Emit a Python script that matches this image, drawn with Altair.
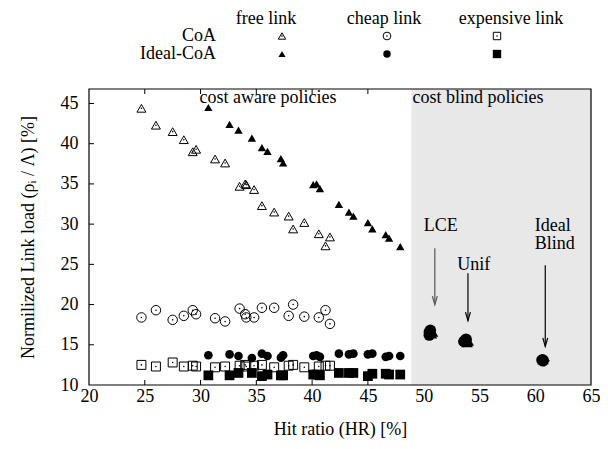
import altair as alt
import pandas as pd

# ---------------- data ----------------
coa_hr = [24.7, 26.0, 27.5, 28.5, 29.3, 29.6, 31.3, 32.2, 33.5, 34.0, 34.1, 34.8,
          35.5, 36.6, 37.9, 38.3, 39.3, 40.6, 41.2, 41.6]
coa_free = [44.4, 42.3, 41.5, 40.5, 39.0, 39.3, 38.1, 37.6, 34.7, 35.0, 34.9, 34.3,
            32.3, 31.5, 31.0, 29.4, 30.2, 28.8, 27.3, 28.4]
coa_cheap = [18.4, 19.3, 18.1, 18.6, 19.3, 18.8, 18.3, 17.9, 19.5, 18.8, 18.4, 18.4,
             19.6, 19.6, 18.6, 20.0, 18.5, 18.4, 19.3, 17.6]
coa_exp = [12.5, 12.3, 12.8, 12.3, 12.4, 12.3, 12.2, 12.3, 12.4, 12.5, 12.3, 12.4,
           12.5, 12.2, 12.4, 12.5, 12.2, 12.3, 12.4, 12.4]

ideal_hr = [30.7, 32.6, 33.4, 34.6, 35.5, 36.0, 37.2, 37.4, 40.1, 40.4, 40.7, 42.4,
            43.3, 43.7, 45.0, 45.4, 46.6, 46.9, 47.9]
ideal_free = [44.5, 42.4, 41.7, 40.7, 39.5, 39.05, 38.15, 37.6, 34.9, 35.0, 34.4, 32.45,
              31.5, 31.0, 30.2, 29.4, 28.7, 28.25, 27.2]
ideal_cheap = [13.7, 13.8, 13.6, 13.35, 13.9, 13.6, 13.4, 13.7, 13.6, 13.7, 13.5, 13.9,
               13.8, 13.9, 13.8, 13.9, 13.5, 13.6, 13.6]
ideal_exp = [11.2, 11.2, 11.5, 11.5, 11.1, 11.3, 11.2, 11.2, 11.3, 11.3, 11.2, 11.5,
             11.5, 11.5, 11.1, 11.4, 11.4, 11.3, 11.3]

# cost blind policies (clusters of overlapping markers)
blind_hr = [50.5, 50.7, 50.6, 50.5, 50.8, 50.6,
            53.7, 53.9, 53.8, 53.6, 54.0, 53.8,
            60.7, 60.8, 60.7, 60.6, 60.7]
blind_load = [16.6, 16.4, 16.8, 16.2, 16.6, 16.5,
              15.5, 15.3, 15.7, 15.4, 15.5, 15.6,
              13.1, 13.0, 13.2, 13.1, 13.0]
blind_shape = ["circle", "triangle-up", "circle", "circle", "triangle-up", "circle",
               "circle", "triangle-up", "circle", "circle", "triangle-up", "circle",
               "circle", "diamond", "triangle-up", "circle", "circle"]

# axis ticks
x_ticks = [20, 25, 30, 35, 40, 45, 50, 55, 60, 65]
y_ticks = [10, 15, 20, 25, 30, 35, 40, 45]
inner_x_ticks = [25, 30, 35, 40, 45, 50, 55, 60]
inner_y_ticks = [15, 20, 25, 30, 35, 40, 45]

# annotations
region_text = ["cost aware policies", "cost blind policies"]
region_x = [29.9, 49.0]
region_y = [45.7, 45.7]
label_text = ["LCE", "Unif", "Ideal", "Blind"]
label_x = [50.0, 53.0, 59.95, 59.95]
label_y = [29.8, 24.9, 29.8, 27.55]
arrow_x = [51.0, 53.97, 60.9]
arrow_y1 = [27.0, 23.9, 24.9]
arrow_y2 = [20.0, 18.0, 14.8]
arrow_color = ["#555555", "black", "black"]

blind_start = 48.9
x_min, x_max = 20, 65
y_min, y_max = 10, 46.8

W, H = 502, 296
FONT = "Liberation Serif"
FS = 18

xs = alt.Scale(domain=[x_min, x_max], nice=False, zero=False)
ys = alt.Scale(domain=[y_min, y_max], nice=False, zero=False)

x_axis = alt.Axis(values=x_ticks, title="Hit ratio (HR) [%]", ticks=False,
                  domain=False, grid=False, labelFlush=False, labelPadding=2,
                  titlePadding=15)
y_axis = alt.Axis(values=y_ticks, title="Normilized Link load (ρᵢ / Λ) [%]",
                  ticks=False, domain=False, grid=False, labelFlush=False,
                  labelPadding=11, titlePadding=23)

X = lambda f: alt.X(f, type="quantitative", scale=xs, axis=x_axis)
Y = lambda f: alt.Y(f, type="quantitative", scale=ys, axis=y_axis)

axis_df = pd.DataFrame({"hr": [x_min, x_max], "load": [y_min, y_max]})

# inward tick marks
xt = pd.DataFrame({"v": inner_x_ticks})
yt = pd.DataFrame({"v": inner_y_ticks})
ticks_bottom = alt.Chart(xt).mark_rule(color="black", strokeWidth=1).encode(
    x=X("v"), y=alt.value(H), y2=alt.value(H - 5))
ticks_top = alt.Chart(xt).mark_rule(color="black", strokeWidth=1).encode(
    x=X("v"), y=alt.value(0), y2=alt.value(5))
ticks_left = alt.Chart(yt).mark_rule(color="black", strokeWidth=1).encode(
    y=Y("v"), x=alt.value(0), x2=alt.value(5))

# gray region
gray_df = pd.DataFrame({"a": [blind_start], "b": [x_max], "c": [y_min], "d": [y_max]})
gray = alt.Chart(gray_df).mark_rect(color="#e8e8e8").encode(
    x=X("a"), x2="b", y=Y("c"), y2="d")

def pts(hr, load, shape, filled, size, sw=1.0):
    df = pd.DataFrame({"hr": hr, "load": load})
    if filled:
        m = alt.Chart(df).mark_point(shape=shape, filled=True, color="black",
                                     size=size, opacity=1)
    else:
        m = alt.Chart(df).mark_point(shape=shape, filled=False, stroke="black",
                                     strokeWidth=sw, size=size, opacity=1)
    return m.encode(x=X("hr"), y=Y("load"))

def dots(hr, load):
    df = pd.DataFrame({"hr": hr, "load": load})
    return alt.Chart(df).mark_point(shape="circle", filled=True, color="black",
                                    size=2.5, opacity=1).encode(x=X("hr"), y=Y("load"))

coa_tri = pts(coa_hr, coa_free, "triangle-up", False, 80)
coa_cir = pts(coa_hr, coa_cheap, "circle", False, 90)
coa_sq = pts(coa_hr, coa_exp, "square", False, 80)
coa_dots = dots(coa_hr * 3, coa_free + coa_cheap + coa_exp)
id_tri = pts(ideal_hr, ideal_free, "triangle-up", True, 70)
id_cir = pts(ideal_hr, ideal_cheap, "circle", True, 75)
id_sq = pts(ideal_hr, ideal_exp, "square", True, 95)

blind_df = pd.DataFrame({"hr": blind_hr, "load": blind_load, "shape": blind_shape})
blind = alt.Chart(blind_df).mark_point(filled=True, color="black", size=130, opacity=1).encode(
    x=X("hr"), y=Y("load"),
    shape=alt.Shape("shape:N", scale=None, legend=None))

# arrows
arr_df = pd.DataFrame({"x": arrow_x, "y1": arrow_y1, "y2": arrow_y2, "c": arrow_color})
shafts = alt.Chart(arr_df).mark_rule(strokeWidth=1.2).encode(
    x=X("x"), y=Y("y1"), y2="y2", color=alt.Color("c:N", scale=None))
heads = alt.Chart(arr_df).mark_point(
    shape="M-0.35,-1.2L0,0L0.35,-1.2", filled=False, strokeWidth=1.2, size=200, opacity=1
).encode(x=X("x"), y=Y("y2"), stroke=alt.Stroke("c:N", scale=None))

reg_df = pd.DataFrame({"t": region_text, "x": region_x, "y": region_y})
reg_text = alt.Chart(reg_df).mark_text(font=FONT, fontSize=FS, align="left",
                                        baseline="middle", color="black").encode(
    x=X("x"), y=Y("y"), text="t:N")
lab_df = pd.DataFrame({"t": label_text, "x": label_x, "y": label_y})
lab_text = alt.Chart(lab_df).mark_text(font=FONT, fontSize=FS, align="left",
                                        baseline="middle", color="black").encode(
    x=X("x"), y=Y("y"), text="t:N")

# frame
frame = alt.Chart(axis_df.head(1)).mark_rect(filled=False, stroke="black",
                                              strokeWidth=1.2).encode(
    x=alt.value(0), x2=alt.value(W), y=alt.value(0), y2=alt.value(H))

# ---------------- custom legend above the plot ----------------
legend_cols = ["free link", "cheap link", "expensive link"]
legend_rows = ["CoA", "Ideal-CoA"]
leg_one = pd.DataFrame({"k": [0]})
leg_layers = []
col_cx = [177, 295, 422]
mark_x = [193, 298, 408]
row_y = [-53, -35]
for t, cx in zip(legend_cols, col_cx):
    leg_layers.append(alt.Chart(leg_one).mark_text(
        text=t, font=FONT, fontSize=FS, align="center", baseline="middle", color="black"
    ).encode(x=alt.value(cx), y=alt.value(-70)))
for t, ry in zip(legend_rows, row_y):
    leg_layers.append(alt.Chart(leg_one).mark_text(
        text=t, font=FONT, fontSize=FS, align="right", baseline="middle", color="black"
    ).encode(x=alt.value(127), y=alt.value(ry)))
shapes = ["triangle-up", "circle", "square"]
open_sizes = [55, 60, 55]
fill_sizes = [50, 55, 70]
for sh, mx, so, sf in zip(shapes, mark_x, open_sizes, fill_sizes):
    leg_layers.append(alt.Chart(leg_one).mark_point(
        shape=sh, filled=False, stroke="black", strokeWidth=1, size=so, opacity=1
    ).encode(x=alt.value(mx), y=alt.value(row_y[0])))
    leg_layers.append(alt.Chart(leg_one).mark_point(
        shape="circle", filled=True, color="black", size=2.5, opacity=1
    ).encode(x=alt.value(mx), y=alt.value(row_y[0])))
    leg_layers.append(alt.Chart(leg_one).mark_point(
        shape=sh, filled=True, color="black", size=sf, opacity=1
    ).encode(x=alt.value(mx), y=alt.value(row_y[1])))

chart = alt.layer(
    ticks_bottom, ticks_top, ticks_left, gray,
    coa_sq, coa_cir, coa_tri, coa_dots, id_sq, id_cir, id_tri, blind,
    shafts, heads, reg_text, lab_text, frame, *leg_layers
).properties(
    width=W, height=H,
    autosize=alt.AutoSizeParams(type="none"),
    padding={"left": 81, "top": 81, "right": 9, "bottom": 56},
).configure_view(stroke=None).configure_axis(
    labelFont=FONT, labelFontSize=FS, labelColor="black",
    titleFont=FONT, titleFontSize=FS, titleFontWeight="normal", titleColor="black",
    labelOverlap=False,
)

chart.save("out.html", embed_options={"renderer": "svg", "actions": False})
